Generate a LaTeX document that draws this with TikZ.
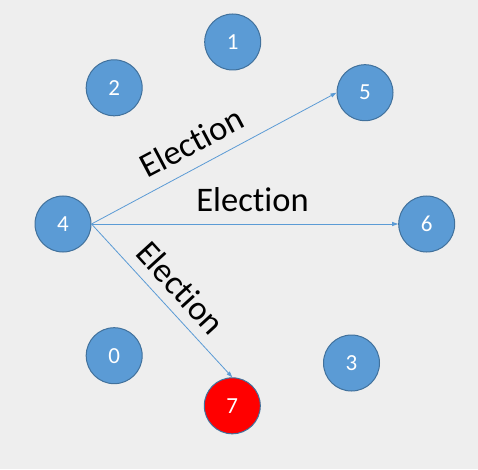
\documentclass[tikz,border=0pt]{standalone}
\usepackage{fontspec}
\setmainfont[Ligatures=NoCommon]{Carlito}
\usetikzlibrary{arrows.meta}
\definecolor{bg}{HTML}{EEEEEE}
\definecolor{nodeblue}{HTML}{5B9BD5}
\definecolor{nodeedge}{HTML}{41719C}
\begin{document}
\begin{tikzpicture}[x=1pt,y=1pt,
  proc/.style={circle, draw=nodeedge, line width=1pt, fill=nodeblue, minimum size=56pt, inner sep=0pt, text=white, font=\fontsize{23}{23}\selectfont},
  leader/.style={proc, fill=red},
  msg/.style={draw=nodeblue, line width=0.8pt, -{Triangle[length=6pt,width=4pt]}},
  lbl/.style={font=\fontsize{34.5}{34.5}\selectfont, inner sep=0pt, anchor=base}]
\fill[bg] (0,0) rectangle (478,469);
\useasboundingbox (0,0) rectangle (478,469);
\node[proc] (n1) at (232.7,427) {1};
\node[proc] (n2) at (114.2,381.2) {2};
\node[proc] (n5) at (365,376.3) {5};
\node[proc] (n4) at (63,245) {4};
\node[proc] (n6) at (426.7,245) {6};
\node[proc] (n0) at (114.2,113.3) {0};
\node[proc] (n3) at (351.5,106) {3};
\node[leader] (n7) at (232.3,63.2) {7};
\draw[msg] (n4.east) -- (n5.west);
\draw[msg] (n4.east) -- (n6.west);
\draw[msg] (n4.east) -- (n7.north);
\node[lbl, rotate=27.8] (l5) at (197.1,316.3) {Election};
\node[lbl] (l6) at (252.5,257.3) {Election};
\node[lbl, rotate=-47.6] (l7) at (171.9,173.3) {Election};
\end{tikzpicture}
\end{document}
